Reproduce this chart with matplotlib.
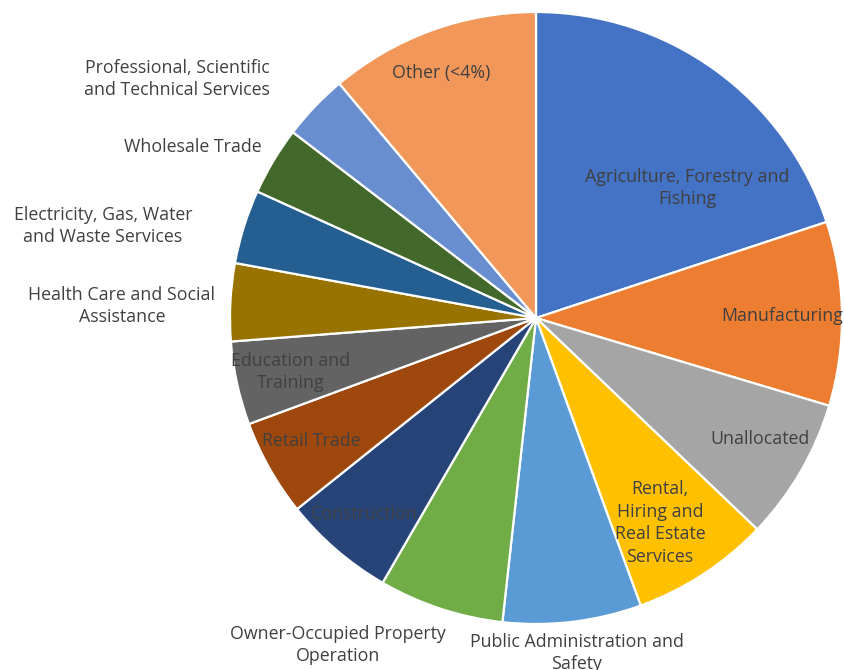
import matplotlib
matplotlib.use("Agg")
import matplotlib.pyplot as plt

# industries, clockwise from 12 o'clock
industries = [
    "Agriculture, Forestry and\nFishing",
    "Manufacturing",
    "Unallocated",
    "Rental,\nHiring and\nReal Estate\nServices",
    "Public Administration and\nSafety",
    "Owner-Occupied Property\nOperation",
    "Construction",
    "Retail Trade",
    "Education and\nTraining",
    "Health Care and Social\nAssistance",
    "Electricity, Gas, Water\nand Waste Services",
    "Wholesale Trade",
    "Professional, Scientific\nand Technical Services",
    "Other (<4%)",
]
share = [19.9, 9.7, 7.5, 7.3, 7.3, 6.6, 5.9, 5.1, 4.4, 4.1, 3.9, 3.6, 3.5, 11.1]

colors = ["#4472C4", "#ED7D31", "#A5A5A5", "#FFC000", "#5B9BD5", "#70AD47",
          "#264478", "#9E480E", "#636363", "#997300", "#255E91", "#43682B",
          "#698ED0", "#F1975A"]

# label centres in pixel coords (x from left, y from top)
label_pos = [(687, 188), (782, 316), (760, 439), (660, 523), (577, 653),
             (338, 645), (364, 514), (311, 441), (291, 372), (122, 306),
             (103, 226), (193, 147), (177, 79), (441, 73)]

W, H = 844, 670
fig = plt.figure(figsize=(W / 100, H / 100), dpi=100)
ax = fig.add_axes([0, 0, 1, 1])

ax.pie(share, colors=colors, startangle=90, counterclock=False,
       center=(536, H - 318), radius=306,
       wedgeprops=dict(edgecolor="white", linewidth=1.6))

for name, (x, y) in zip(industries, label_pos):
    ax.text(x, H - y, name, ha="center", va="center", fontsize=12.8,
            family="Open Sans", color="#404040", linespacing=1.35)

ax.set_xlim(0, W)
ax.set_ylim(0, H)
ax.set_aspect("equal")
ax.axis("off")

fig.savefig("out.png", dpi=100, facecolor="white")
